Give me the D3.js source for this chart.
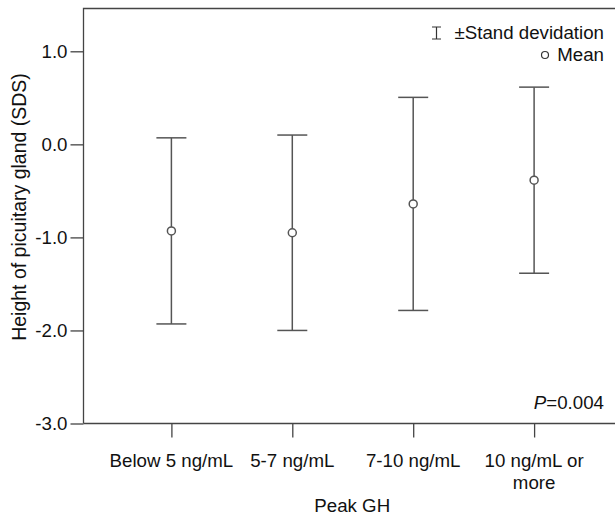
<!DOCTYPE html>
<html>
<head>
<meta charset="utf-8">
<script src="https://cdn.jsdelivr.net/npm/d3@7"></script>
<style>
  html, body { margin: 0; padding: 0; background: #fff; }
  svg { display: block; font-family: "Liberation Sans", Arial, sans-serif; }
</style>
</head>
<body>
<svg id="chart" width="615" height="515"></svg>
<script>
// Peak GH groups and pituitary height (SDS): mean and standard deviation
const groups = ["Below 5 ng/mL", "5-7 ng/mL", "7-10 ng/mL", "10 ng/mL or more"];
const groupLines = [["Below 5 ng/mL"], ["5-7 ng/mL"], ["7-10 ng/mL"], ["10 ng/mL or", "more"]];
const means = [-0.93, -0.95, -0.64, -0.385];
const sds = [1.0, 1.05, 1.145, 1.0];
const yTicks = [1.0, 0.0, -1.0, -2.0, -3.0];

(function draw() {
  const svg = d3.select("#chart");
  const plotLeft = 83.5, plotTop = 8.5, plotBottom = 423.5, plotRight = 622;
  const axisColor = "#444";
  const barColor = "#555";
  const fontSize = 18.7;

  const x = d3.scalePoint().domain(groups).range([plotLeft, plotRight]).padding(0.727);
  const y = d3.scaleLinear().domain([-3, 1.46]).range([plotBottom, plotTop]);

  // frame (top and left edges; right side runs past the view)
  svg.append("path")
    .attr("d", `M${plotLeft},${plotBottom}V${plotTop}H${plotRight}`)
    .attr("fill", "none").attr("stroke", axisColor).attr("stroke-width", 1.3);

  // y axis (plain hyphen for negatives)
  const yAxis = svg.append("g").attr("transform", `translate(${plotLeft},0)`)
    .call(d3.axisLeft(y).tickValues(yTicks).tickFormat(d => d.toFixed(1)).tickSize(13).tickPadding(3));
  yAxis.select(".domain").remove();
  yAxis.selectAll(".tick line").attr("stroke", axisColor).attr("stroke-width", 1.3);
  yAxis.selectAll(".tick text").attr("fill", "#111").attr("font-size", fontSize)
    .attr("font-family", "Liberation Sans, Arial, sans-serif");

  // x axis
  const xAxis = svg.append("g").attr("transform", `translate(0,${plotBottom})`)
    .call(d3.axisBottom(x).tickSize(14).tickFormat(""));
  xAxis.select(".domain").attr("d", `M${plotLeft},0H${plotRight}`).attr("stroke", axisColor).attr("stroke-width", 1.3);
  xAxis.selectAll(".tick line").attr("stroke", axisColor).attr("stroke-width", 1.3);

  // multi-line category labels
  groups.forEach((g, i) => {
    const t = svg.append("text").attr("text-anchor", "middle")
      .attr("font-size", fontSize).attr("fill", "#111");
    groupLines[i].forEach((line, j) => {
      t.append("tspan").attr("x", x(g)).attr("y", 467 + j * 22).text(line);
    });
  });

  // axis titles
  svg.append("text").attr("x", (plotLeft + 615) / 2 + 3).attr("y", 512)
    .attr("text-anchor", "middle").attr("font-size", fontSize).attr("fill", "#111").text("Peak GH");
  svg.append("text")
    .attr("transform", `translate(26,207) rotate(-90)`)
    .attr("text-anchor", "middle").attr("font-size", fontSize + 0.8).attr("fill", "#111")
    .text("Height of picuitary gland (SDS)");

  // error bars: mean ± SD
  const capHalf = 15;
  const bars = svg.append("g").attr("stroke", barColor).attr("stroke-width", 1.5).attr("fill", "none");
  groups.forEach((g, i) => {
    const cx = x(g);
    const hi = y(means[i] + sds[i]), lo = y(means[i] - sds[i]), m = y(means[i]);
    bars.append("line").attr("x1", cx).attr("x2", cx).attr("y1", hi).attr("y2", lo);
    bars.append("line").attr("x1", cx - capHalf).attr("x2", cx + capHalf).attr("y1", hi).attr("y2", hi);
    bars.append("line").attr("x1", cx - capHalf).attr("x2", cx + capHalf).attr("y1", lo).attr("y2", lo);
    bars.append("circle").attr("cx", cx).attr("cy", m).attr("r", 4).attr("fill", "#fff");
  });

  // legend
  const lg = svg.append("g");
  lg.append("path").attr("d", "M432,27H441M436.5,27V39M432,39H441")
    .attr("stroke", "#333").attr("stroke-width", 1.2).attr("fill", "none");
  lg.append("text").attr("x", 604).attr("y", 39).attr("text-anchor", "end")
    .attr("font-size", fontSize).attr("fill", "#111").text("\u00B1Stand devidation");
  lg.append("circle").attr("cx", 545).attr("cy", 55).attr("r", 3.5)
    .attr("fill", "#fff").attr("stroke", "#333").attr("stroke-width", 1.2);
  lg.append("text").attr("x", 604).attr("y", 61).attr("text-anchor", "end")
    .attr("font-size", fontSize).attr("fill", "#111").text("Mean");

  // significance annotation
  const pt = svg.append("text").attr("x", 604).attr("y", 409).attr("text-anchor", "end")
    .attr("font-size", fontSize).attr("fill", "#111");
  pt.append("tspan").attr("font-style", "italic").text("P");
  pt.append("tspan").text("=0.004");
})();
</script>
</body>
</html>
